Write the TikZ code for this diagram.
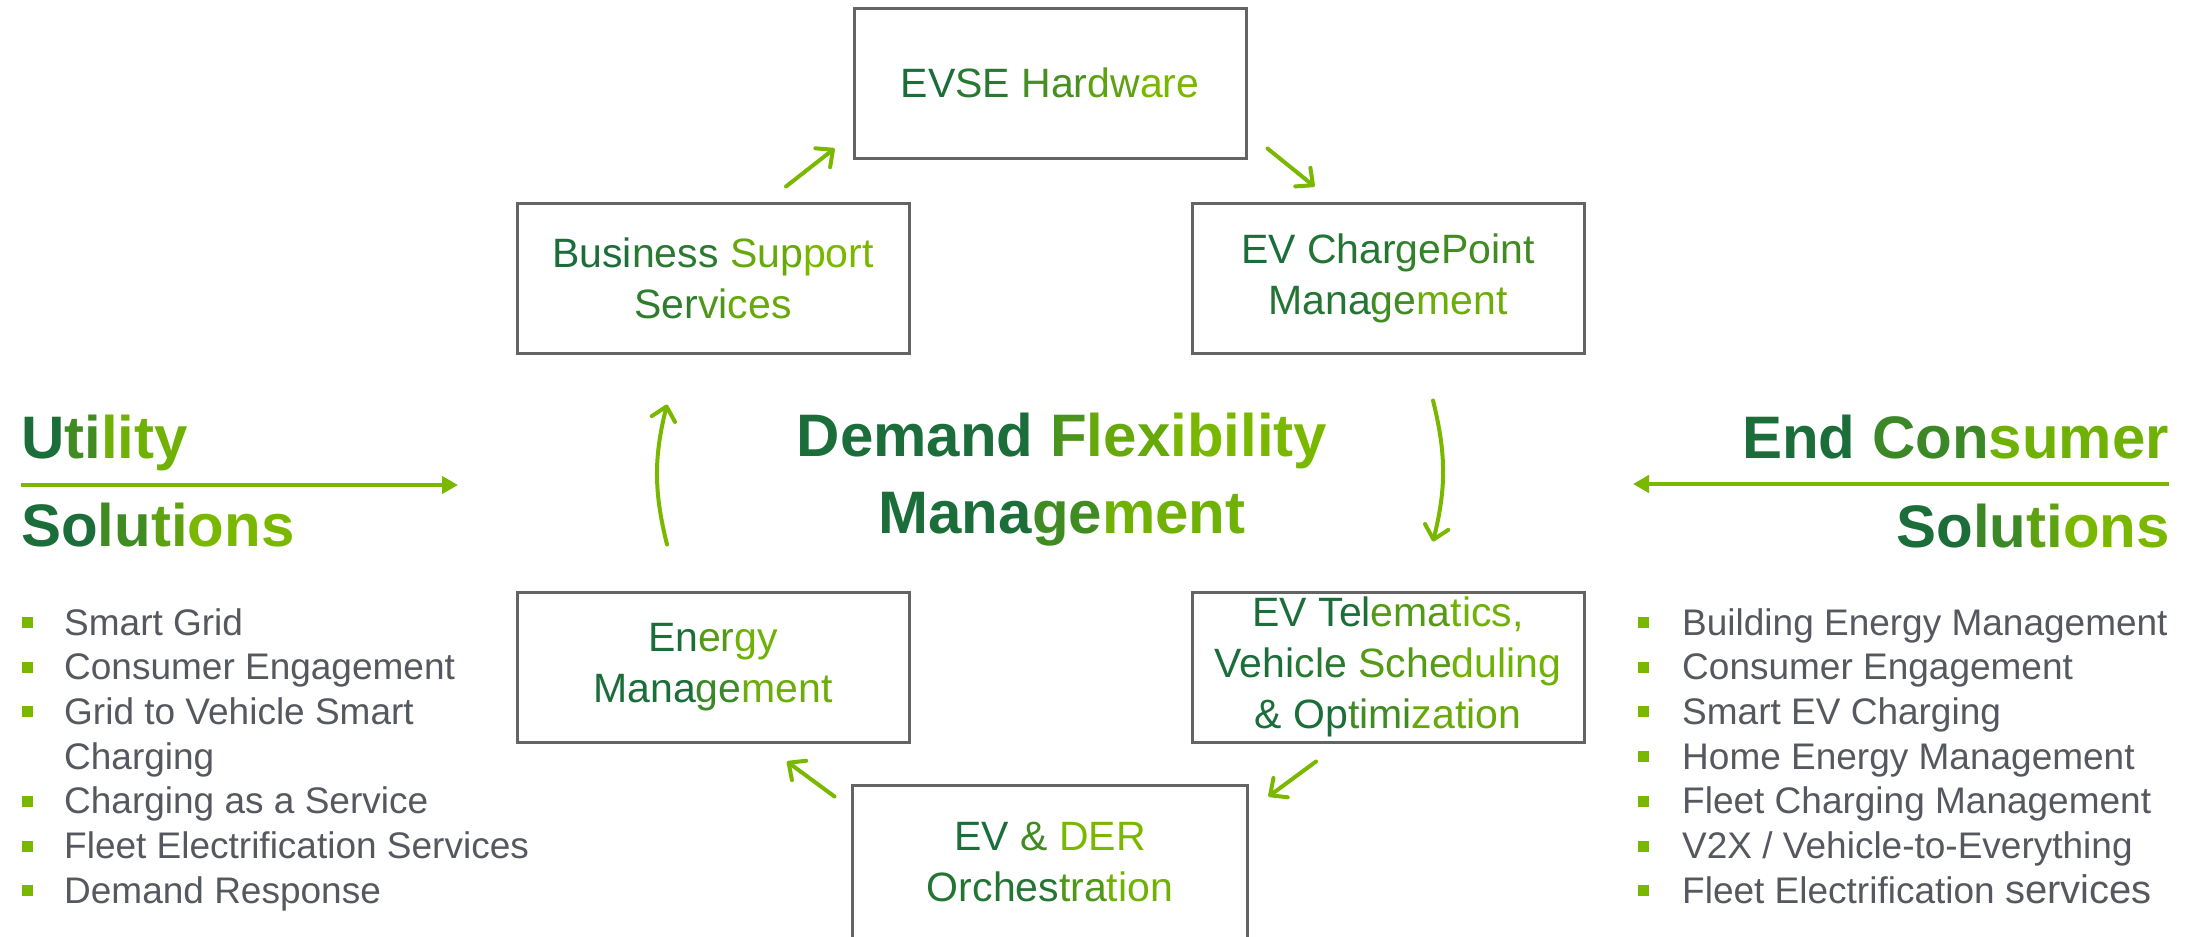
\documentclass[tikz,border=0pt]{standalone}
\usepackage{fontspec}
\setmainfont{Liberation Sans}
\usepackage{xcolor}
\usepackage{tikz}
\usetikzlibrary{positioning,arrows.meta}
\definecolor{verdeosc}{RGB}{27,110,58}
\definecolor{verdecla}{RGB}{122,184,0}
\definecolor{gristxt}{RGB}{85,88,94}
\definecolor{grisbor}{RGB}{100,100,100}
% tono: mezcla entre verde oscuro (0) y verde claro (100)
\newcommand{\tono}[2]{{\color{verdecla!#1!verdeosc}#2}}
\newcommand{\vineta}{{\color{verdecla}\rule[7pt]{11pt}{11pt}}}

\begin{document}
\begin{tikzpicture}[
  x=1pt, y=-1pt,
  borde/.style={draw=grisbor, line width=3pt},
  caja/.style={borde, minimum width=392pt, minimum height=150pt,
    inner sep=0pt, align=center, font=\fontsize{41}{51}\selectfont},
  titulo/.style={font=\fontsize{60}{72}\selectfont\bfseries, inner sep=0pt},
  lista/.style={font=\fontsize{37}{44.7}\selectfont, text=gristxt,
    inner sep=0pt, anchor=base west},
  flecha/.style={draw=verdecla, line width=4pt, line cap=round,
    -{Straight Barb[round,length=13pt,width=24pt]}},
  guia/.style={draw=verdecla, line width=4pt,
    -{Triangle[length=16pt,width=17pt]}},
]
  \useasboundingbox (0,0) rectangle (2196,937);
  % ---- Ciclo de cajas ----
  \node[caja] (evse) at (1050,83)
    {\tono{0}{EV}\tono{15}{SE} \tono{45}{Har}\tono{70}{dw}\tono{100}{are}};
  \node[caja] (bss) at (713,278)
    {\tono{0}{Busi}\tono{15}{ness} \tono{80}{Sup}\tono{100}{port}\\
     \tono{20}{Ser}\tono{55}{vi}\tono{80}{ces}};
  \node[caja] (cpm) at (1388,278)
    {\tono{0}{EV} \tono{10}{Char}\tono{25}{ge}\tono{40}{Point}\\
     \tono{10}{Mana}\tono{40}{ge}\tono{85}{ment}};
  \node[caja] (tel) at (1388,667)
    {\tono{0}{EV Tel}\tono{60}{ema}\tono{90}{tics,}\\
     \tono{0}{Vehi}\tono{15}{cle} \tono{60}{Sche}\tono{90}{duling}\\
     \tono{0}{\& Op}\tono{40}{timi}\tono{80}{zation}};
  \node[caja, draw=none] (der) at (1050,862)
    {\tono{0}{EV} \tono{40}{\&} \tono{100}{DER}\\
     \tono{10}{Orches}\tono{55}{tra}\tono{90}{tion}};
  \node[caja] (ener) at (713,667)
    {\tono{0}{En}\tono{60}{er}\tono{90}{gy}\\
     \tono{0}{Mana}\tono{35}{ge}\tono{85}{ment}};
  \draw[borde] ([yshift=-30pt]der.south west) -- (der.north west)
    -- (der.north east) -- ([yshift=-30pt]der.south east);
  % ---- Flechas del ciclo ----
  \draw[flecha] ([xshift=73pt,yshift=15pt]bss.north)
    -- ([xshift=-18pt,yshift=11pt]evse.south west);
  \draw[flecha] ([xshift=20pt,yshift=11pt]evse.south east)
    -- ([xshift=124pt,yshift=15pt]cpm.north west);
  \draw[flecha] ([xshift=45pt,yshift=-46pt]cpm.south)
    to[bend left=14] ([xshift=45pt,yshift=49pt]tel.north);
  \draw[flecha] ([xshift=-72pt,yshift=-18pt]tel.south)
    -- ([xshift=21pt,yshift=-11pt]der.north east);
  \draw[flecha] ([xshift=-18pt,yshift=-11pt]der.north west)
    -- ([xshift=74pt,yshift=-18pt]ener.south);
  \draw[flecha] ([xshift=-46pt,yshift=46pt]ener.north)
    to[bend left=14] ([xshift=-46pt,yshift=-50pt]bss.south);
  % ---- Titulo central ----
  \node[titulo, anchor=base] (tit1) at (1062,456)
    {\tono{0}{Demand} \tono{50}{F}\tono{80}{lex}\tono{100}{ibility}};
  \node[titulo, anchor=base] (tit2) at (1062,533)
    {\tono{0}{Mana}\tono{40}{ge}\tono{90}{ment}};
  % ---- Lado utility (izquierda) ----
  \node[titulo, anchor=base west] (util) at (21,458)
    {\tono{0}{U}\tono{40}{ti}\tono{90}{lity}};
  \node[titulo, anchor=base west] (usol) at (21,546)
    {\tono{0}{So}\tono{40}{lu}\tono{70}{ti}\tono{100}{ons}};
  \coordinate (ua) at (21,485);
  \coordinate (ub) at (458,485);
  \draw[guia] (ua) -- (ub);
  \node[lista] (ul) at (22,635)
    {\begin{tabular}[t]{@{}l@{\hspace{31pt}}l@{}}
     \vineta & Smart Grid\\
     \vineta & Consumer Engagement\\
     \vineta & Grid to Vehicle Smart\\
             & Charging\\
     \vineta & Charging as a Service\\
     \vineta & Fleet Electrification Services\\
     \vineta & Demand Response
     \end{tabular}};
  % ---- Lado consumidor (derecha) ----
  \node[titulo, anchor=base east] (cons) at (2169,458)
    {\tono{0}{End} \tono{35}{Con}\tono{90}{sumer}};
  \node[titulo, anchor=base east] (csol) at (2170,547)
    {\tono{0}{So}\tono{35}{lu}\tono{70}{ti}\tono{100}{ons}};
  \coordinate (ca) at (2169,484);
  \coordinate (cb) at (1633,484);
  \draw[guia] (ca) -- (cb);
  \node[lista] (ur) at (1638,635)
    {\begin{tabular}[t]{@{}l@{\hspace{33pt}}l@{}}
     \vineta & Building Energy Management\\
     \vineta & Consumer Engagement\\
     \vineta & Smart EV Charging\\
     \vineta & Home Energy Management\\
     \vineta & Fleet Charging Management\\
     \vineta & V2X / Vehicle-to-Everything\\
     \vineta & Fleet Electrification {\fontsize{40}{44.7}\selectfont services}
     \end{tabular}};
\end{tikzpicture}
\end{document}
